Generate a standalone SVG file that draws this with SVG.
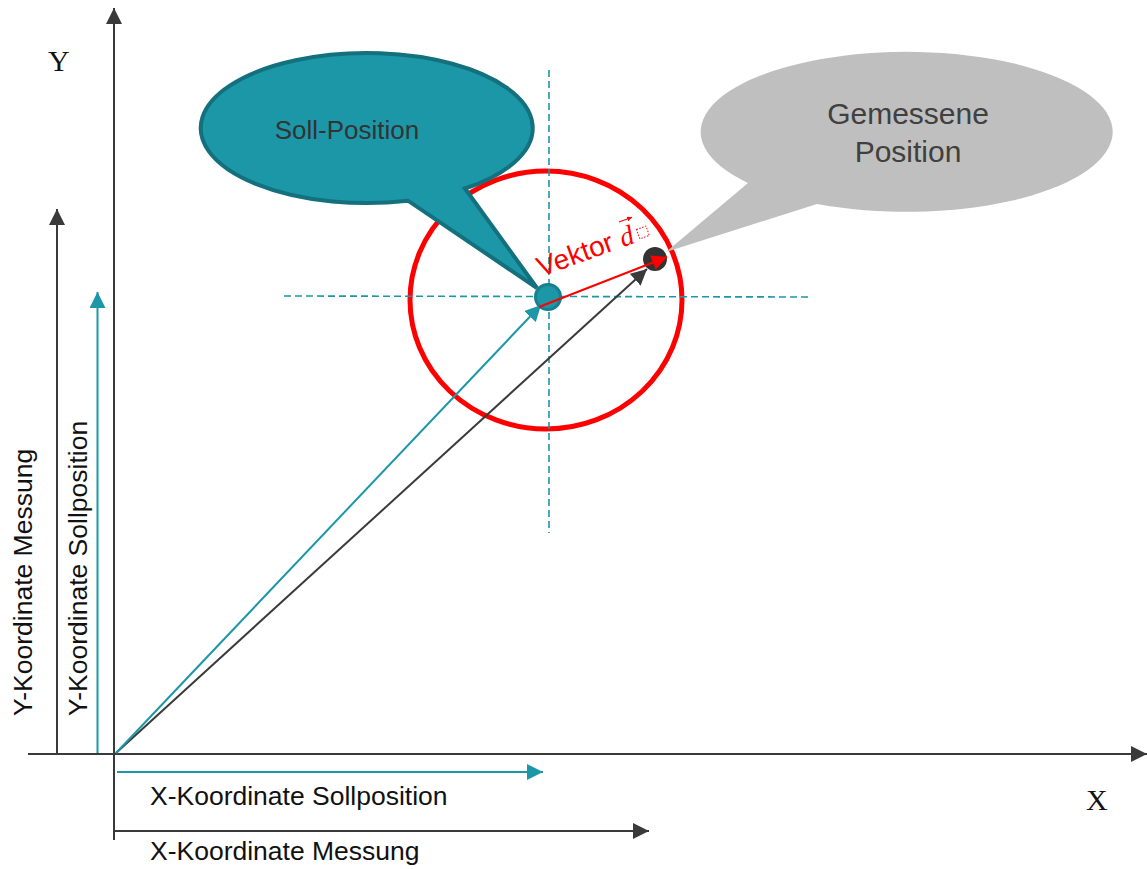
<svg xmlns="http://www.w3.org/2000/svg" width="1147" height="869" viewBox="0 0 1147 869">
<style>
  .ax{stroke:#3a3a3a;stroke-width:2;fill:none}
  .tl{stroke:#1b97a8;stroke-width:2;fill:none}
  .dash{stroke:#1b97a8;stroke-width:1.6;stroke-dasharray:7 4;fill:none}
  .lbl{font-family:"Liberation Sans",Arial,sans-serif;font-size:26.5px;fill:#111}
  .axl{font-family:"Liberation Serif","Times New Roman",serif;font-size:30px;fill:#111}
</style>
<defs>
  <marker id="ad" viewBox="0 0 16 16" refX="16" refY="8" markerWidth="16" markerHeight="16" markerUnits="userSpaceOnUse" orient="auto"><path d="M0,0 L16,8 L0,16 Z" fill="#3a3a3a"/></marker>
  <marker id="at" viewBox="0 0 16 16" refX="16" refY="8" markerWidth="16" markerHeight="16" markerUnits="userSpaceOnUse" orient="auto"><path d="M0,0 L16,8 L0,16 Z" fill="#1b97a8"/></marker>
  <marker id="ar" viewBox="0 0 16 16" refX="16" refY="8" markerWidth="17" markerHeight="15" markerUnits="userSpaceOnUse" orient="auto"><path d="M0,0 L16,8 L0,16 Z" fill="#ff0000"/></marker>
  <marker id="ars" viewBox="0 0 10 10" refX="10" refY="5" markerWidth="5" markerHeight="5" markerUnits="userSpaceOnUse" orient="auto"><path d="M0,0 L10,5 L0,10 Z" fill="#ff0000"/></marker>
</defs>

<g id="target-circle">
  <ellipse cx="546" cy="300" rx="136" ry="129" fill="none" stroke="#ff0000" stroke-width="5"/>
</g>

<g id="crosshair">
  <line class="dash" x1="284" y1="296" x2="808" y2="297"/>
  <line class="dash" x1="549" y1="70" x2="549" y2="533"/>
</g>

<g id="connectors">
  <line class="ax" x1="114" y1="840" x2="114" y2="8" marker-end="url(#ad)"/>
  <line class="ax" x1="28" y1="754" x2="1147" y2="754" marker-end="url(#ad)"/>
  <line class="ax" x1="57" y1="753" x2="57" y2="209" marker-end="url(#ad)"/>
  <line class="tl" x1="97.5" y1="753" x2="97.5" y2="292" marker-end="url(#at)"/>
  <line class="tl" x1="117" y1="772" x2="543" y2="772" marker-end="url(#at)"/>
  <line class="ax" x1="115" y1="831" x2="649" y2="831" marker-end="url(#ad)"/>
  <line class="ax" x1="116" y1="753" x2="647" y2="269" marker-end="url(#ad)"/>
</g>

<g id="callout-soll">
  <path d="M408,200.7 A166,75 0 1 1 465,188.5 L537,288 Z" fill="#1c97a8" stroke="#13707c" stroke-width="4" stroke-linejoin="miter"/>
  <text x="347" y="139" text-anchor="middle" font-family="Liberation Sans,Arial,sans-serif" font-size="26" fill="#333">Soll-Position</text>
</g>

<g id="callout-gemessen">
  <path d="M748,182.9 A206,80 0 1 1 817,203.9 L666,252 Z" fill="#bfbfbf"/>
  <text x="908" y="124" text-anchor="middle" font-family="Liberation Sans,Arial,sans-serif" font-size="30" fill="#404040">Gemessene</text>
  <text x="908" y="162" text-anchor="middle" font-family="Liberation Sans,Arial,sans-serif" font-size="30" fill="#404040">Position</text>
</g>

<g id="soll-point">
  <circle cx="548" cy="297" r="12.5" fill="#1c97a8" stroke="#177f8d" stroke-width="3"/>
  <line class="tl" x1="116" y1="753" x2="541" y2="305" marker-end="url(#at)"/>
</g>

<g id="mess-point">
  <circle cx="655" cy="259" r="12" fill="#333333"/>
</g>

<g id="vektor">
  <line x1="539" y1="307" x2="667" y2="257" stroke="#ff0000" stroke-width="2" marker-end="url(#ar)"/>
  <g transform="translate(541,277) rotate(-20)">
    <text x="0" y="0" font-family="Liberation Sans,Arial,sans-serif" font-size="28" fill="#ff0000">Vektor <tspan font-family="Liberation Serif,serif" font-style="italic">d</tspan></text>
    <line x1="92" y1="-25" x2="106" y2="-25" stroke="#ff0000" stroke-width="1.2" marker-end="url(#ars)"/>
    <rect x="106" y="-12" width="10" height="10" fill="none" stroke="#ff0000" stroke-width="1" stroke-dasharray="1.5 1.5"/>
  </g>
</g>

<g id="labels">
  <text class="axl" x="48" y="71">Y</text>
  <text class="axl" x="1086" y="810">X</text>
  <text class="lbl" x="150" y="805">X-Koordinate Sollposition</text>
  <text class="lbl" x="150" y="860">X-Koordinate Messung</text>
  <text class="lbl" transform="translate(32,716) rotate(-90)">Y-Koordinate Messung</text>
  <text class="lbl" transform="translate(87,716) rotate(-90)">Y-Koordinate Sollposition</text>
</g>
</svg>
